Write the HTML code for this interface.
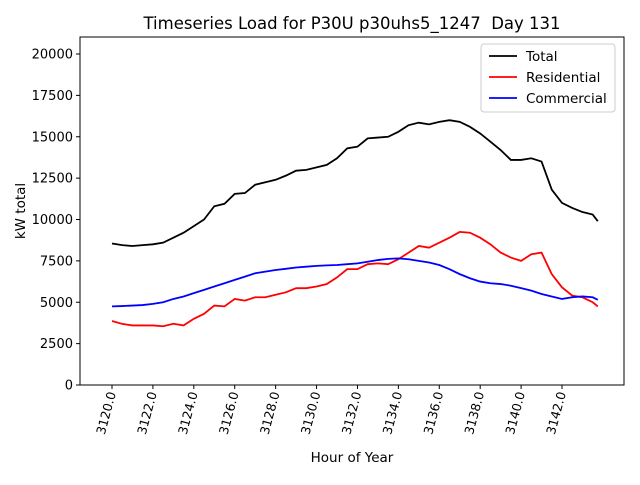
<!DOCTYPE html>
<html><head><meta charset="utf-8"><style>body{margin:0;background:#fff}svg{font-family:"DejaVu Sans","Liberation Sans",sans-serif}</style></head>
<body>
<svg id="chart" width="640" height="480" xmlns="http://www.w3.org/2000/svg">
<text x="352" y="29" font-size="16.5" text-anchor="middle">Timeseries Load for P30U p30uhs5_1247&#160; Day 131</text>
<text x="352" y="462" font-size="13.5" text-anchor="middle">Hour of Year</text>
<text transform="translate(25,211) rotate(-90)" font-size="13.5" text-anchor="middle">kW total</text>
<g id="plot"></g>
</svg>
<script>
const hours=[3120,3120.5,3121,3121.5,3122,3122.5,3123,3123.5,3124,3124.5,3125,3125.5,3126,3126.5,3127,3127.5,3128,3128.5,3129,3129.5,3130,3130.5,3131,3131.5,3132,3132.5,3133,3133.5,3134,3134.5,3135,3135.5,3136,3136.5,3137,3137.5,3138,3138.5,3139,3139.5,3140,3140.5,3141,3141.5,3142,3142.5,3143,3143.5,3143.75];
const totalLoad=[8550,8450,8400,8450,8500,8600,8900,9200,9600,10000,10800,10950,11550,11600,12100,12250,12400,12650,12950,13000,13150,13300,13700,14300,14400,14900,14950,15000,15300,15700,15850,15750,15900,16000,15900,15600,15200,14700,14200,13600,13600,13700,13500,11800,11000,10700,10450,10300,9900];
const residentialLoad=[3870,3690,3600,3600,3600,3550,3700,3600,4000,4300,4800,4750,5200,5100,5300,5300,5450,5600,5850,5850,5950,6100,6500,7000,7000,7300,7350,7300,7600,8000,8400,8300,8600,8900,9250,9200,8900,8500,8000,7700,7500,7900,8000,6700,5900,5400,5300,5000,4750];
const commercialLoad=[4750,4770,4800,4830,4900,5000,5200,5350,5550,5750,5950,6150,6350,6550,6750,6850,6950,7020,7100,7150,7200,7230,7250,7300,7350,7450,7550,7620,7650,7600,7500,7400,7250,7000,6700,6450,6250,6150,6100,6000,5850,5700,5500,5350,5200,5300,5350,5300,5150];
const xTicks=[3120,3122,3124,3126,3128,3130,3132,3134,3136,3138,3140,3142];
const yTicks=[0,2500,5000,7500,10000,12500,15000,17500,20000];
const seriesNames=["Total","Residential","Commercial"];
const seriesColors=["#000","#ff0000","#0000ff"];

const L=80,R=624,T=37,B=385;
const xs=h=>112+(h-3120)*(562-112)/22;
const ys=v=>B-v*(B-54)/20000;
const NS="http://www.w3.org/2000/svg";
const g=document.getElementById('plot');
function mk(t,a){const e=document.createElementNS(NS,t);for(const k in a)e.setAttribute(k,a[k]);g.appendChild(e);return e;}

const frame=mk('rect',{x:L,y:T,width:R-L,height:B-T,fill:'none',stroke:'#000','stroke-width':1});



yTicks.forEach(v=>{
  const y=ys(v);
  const tk=mk('line',{x1:L-4,x2:L,y1:y,y2:y,stroke:'#000'});
  
  
  const t=mk('text',{x:L-7,y:y+4.5,'font-size':13,'text-anchor':'end'});
  t.textContent=v;
  
  
});
xTicks.forEach(h=>{
  const x=xs(h);
  const tk=mk('line',{x1:x,x2:x,y1:B,y2:B+4,stroke:'#000'});
  
  
  const t=mk('text',{transform:`translate(${x+4},${B+8}) rotate(-75)`,'font-size':12.5,'text-anchor':'end'});
  t.textContent=h.toFixed(1);
  
  
});
[totalLoad,residentialLoad,commercialLoad].forEach((s,i)=>{
  const p=mk('polyline',{points:s.map((v,j)=>xs(hours[j])+','+ys(v)).join(' '),fill:'none',stroke:seriesColors[i],'stroke-width':1.8});
  
  
});
const lg=mk('rect',{x:481,y:44,width:134,height:68,rx:3,fill:'#fff',stroke:'#ccc'});


seriesNames.forEach((n,i)=>{
  const y=56+i*21;
  const l=mk('line',{x1:489,x2:517,y1:y,y2:y,stroke:seriesColors[i],'stroke-width':1.8});
  
  
  const t=mk('text',{x:526,y:y+5,'font-size':13.5});
  t.textContent=n;
  
  
});
</script>
</body></html>
